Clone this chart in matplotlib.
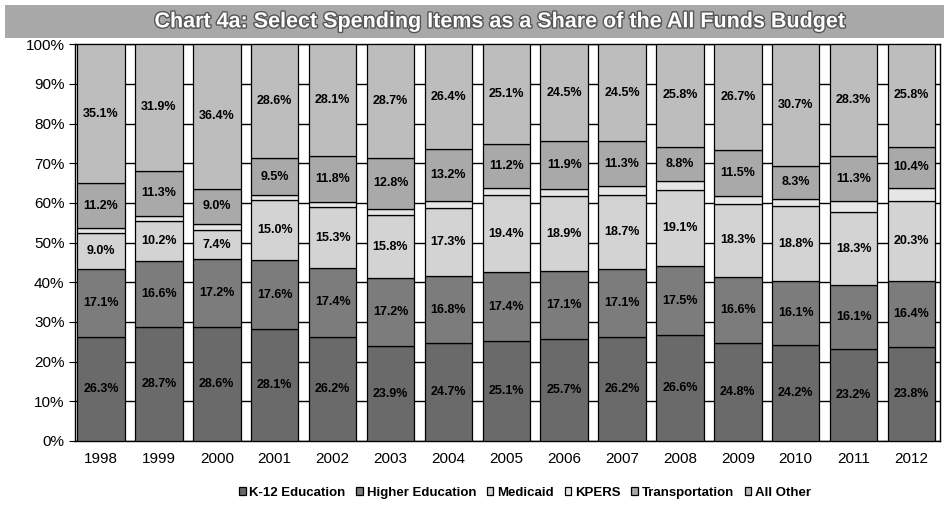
import matplotlib.pyplot as plt
import matplotlib.patheffects as pe
from matplotlib.patches import Rectangle
from matplotlib.ticker import MultipleLocator, FuncFormatter
import numpy as np

plt.rcParams['font.family'] = ['Liberation Sans', 'DejaVu Sans']

years = ['1998', '1999', '2000', '2001', '2002', '2003', '2004', '2005',
         '2006', '2007', '2008', '2009', '2010', '2011', '2012']
k12 = [26.3, 28.7, 28.6, 28.1, 26.2, 23.9, 24.7, 25.1, 25.7, 26.2, 26.6, 24.8, 24.2, 23.2, 23.8]
higher_ed = [17.1, 16.6, 17.2, 17.6, 17.4, 17.2, 16.8, 17.4, 17.1, 17.1, 17.5, 16.6, 16.1, 16.1, 16.4]
medicaid = [9.0, 10.2, 7.4, 15.0, 15.3, 15.8, 17.3, 19.4, 18.9, 18.7, 19.1, 18.3, 18.8, 18.3, 20.3]
kpers = [1.3, 1.3, 1.4, 1.2, 1.2, 1.6, 1.6, 1.8, 1.9, 2.2, 2.2, 2.1, 1.9, 2.8, 3.3]
transportation = [11.2, 11.3, 9.0, 9.5, 11.8, 12.8, 13.2, 11.2, 11.9, 11.3, 8.8, 11.5, 8.3, 11.3, 10.4]
all_other = [35.1, 31.9, 36.4, 28.6, 28.1, 28.7, 26.4, 25.1, 24.5, 24.5, 25.8, 26.7, 30.7, 28.3, 25.8]

series = [
    ('K-12 Education', k12, '#6a6a6a', True),
    ('Higher Education', higher_ed, '#7c7c7c', True),
    ('Medicaid', medicaid, '#d3d3d3', True),
    ('KPERS', kpers, '#e6e6e6', False),
    ('Transportation', transportation, '#a9a9a9', True),
    ('All Other', all_other, '#bdbdbd', True),
]

fig = plt.figure(figsize=(9.49, 5.08), dpi=100)
fig.patch.set_facecolor('white')

# title band
fig.patches.append(Rectangle((0.005, 0.925), 0.99, 0.065, transform=fig.transFigure,
                             facecolor='#a8a8a8', edgecolor='none'))
fig.text(0.527, 0.957, 'Chart 4a: Select Spending Items as a Share of the All Funds Budget',
         ha='center', va='center', color='white', fontsize=15.5, fontweight='bold',
         path_effects=[pe.withStroke(linewidth=2, foreground='#555555')])

ax = fig.add_axes([0.079, 0.132, 0.912, 0.781])
x = np.arange(len(years))
bottom = np.zeros(len(years))
for name, vals, color, show in series:
    vals = np.array(vals)
    ax.bar(x, vals, 0.82, bottom=bottom, color=color, edgecolor='black',
           linewidth=0.9, label=name, zorder=3)
    if show:
        for xi, b, v in zip(x, bottom, vals):
            ax.text(xi, b + v / 2, f'{v:.1f}%', ha='center', va='center',
                    fontsize=9, fontweight='bold', color='black', zorder=4)
    bottom += vals

ax.set_xlim(-0.45, 14.5)
ax.set_ylim(0, 100)
ax.yaxis.set_major_locator(MultipleLocator(10))
ax.yaxis.set_major_formatter(FuncFormatter(lambda v, p: f'{v:.0f}%'))
ax.grid(axis='y', color='black', linewidth=1.0, zorder=0)
ax.set_xticks(x)
ax.set_xticklabels(years, fontsize=11)
ax.tick_params(axis='y', labelsize=11, length=4)
ax.tick_params(axis='x', length=0, pad=8)
for s in ax.spines.values():
    s.set_linewidth(1.0)

ax.legend(loc='upper center', bbox_to_anchor=(0.52, -0.085), ncol=6, frameon=False,
          prop={'weight': 'bold', 'size': 9.5}, handlelength=0.5, handleheight=0.5,
          handletextpad=0.3, columnspacing=0.8)

fig.savefig('out.png', dpi=100)
